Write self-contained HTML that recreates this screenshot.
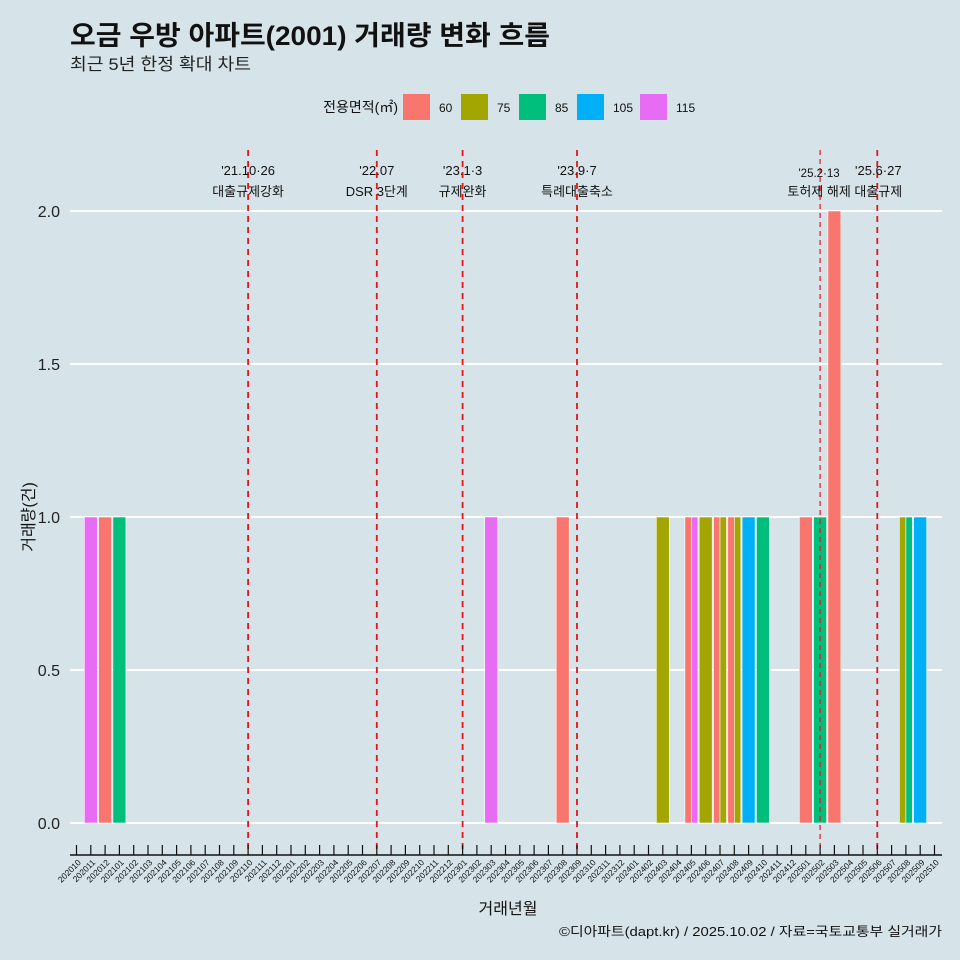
<!DOCTYPE html>
<html><head><meta charset="utf-8"><style>
html,body{margin:0;padding:0;background:#d6e4ea;}
svg{display:block;font-family:"Liberation Sans","Noto Sans CJK KR",sans-serif;}
</style></head><body>
<svg id="c" width="960" height="960" viewBox="0 0 960 960">
<rect x="0" y="0" width="960" height="960" fill="#d6e4ea"/>
<text x="70" y="45" font-size="27" font-weight="bold" fill="#111" textLength="480" lengthAdjust="spacingAndGlyphs">오금 우방 아파트(2001) 거래량 변화 흐름</text>
<text x="70" y="70" font-size="17" fill="#222" textLength="181" lengthAdjust="spacingAndGlyphs">최근 5년 한정 확대 차트</text>
<g id="legend">
<text x="398" y="112" font-size="14" text-anchor="end" fill="#111">전용면적(㎡)</text>
</g>
<g id="grid"></g><g id="bars"></g><g id="events"></g><g id="xaxis"></g><g id="yaxis"></g>
<text transform="translate(34,517) rotate(-90)" font-size="16" text-anchor="middle" fill="#111">거래량(건)</text>
<text x="508" y="914" font-size="16" text-anchor="middle" fill="#111">거래년월</text>
<text x="942" y="936" font-size="13" text-anchor="end" fill="#111" textLength="383" lengthAdjust="spacingAndGlyphs">©디아파트(dapt.kr) / 2025.10.02 / 자료=국토교통부 실거래가</text>
</svg>
<script>
const months = [];
for (let y=2020,m=10; !(y===2025&&m===11); ){ months.push(''+y+(m<10?'0'+m:m)); m++; if(m>12){m=1;y++;} }
const sizes = ['60','75','85','105','115'];
const sizeColors = ['#f8766d','#a3a500','#00bf7d','#00b0f6','#e76bf3'];
const tradeMonths = ['202011','202012','202101','202303','202308','202403','202405','202405','202406','202407','202407','202408','202408','202409','202410','202501','202502','202503','202508','202508','202509'];
const tradeSizes  = ['115','60','85','115','60','75','60','115','75','60','75','60','75','105','85','60','85','60','75','85','105'];
const tradeCounts = [1,1,1,1,1,1,1,1,1,1,1,1,1,1,1,1,1,2,1,1,1];
const yTicks = [0,0.5,1.0,1.5,2.0];
const yTickLabels = ['0.0','0.5','1.0','1.5','2.0'];
const eventMonths = ['202110','202207','202301','202309','202502','202506'];
const eventDates = ["'21.10·26","'22.07","'23.1·3","'23.9·7","'25.2·13","'25.6·27"];
const eventLabels = ['대출규제강화','DSR 3단계','규제완화','특례대출축소','토허제 해제','대출규제'];

const NS='http://www.w3.org/2000/svg';
function mk(tag,attrs,parent,text){const e=document.createElementNS(NS,tag);for(const k in attrs)e.setAttribute(k,attrs[k]);if(text!=null)e.textContent=text;parent.appendChild(e);return e;}
const x0=76.5, step=14.3, plotL=70, plotR=942;
const xS = m => x0 + months.indexOf(m)*step;
const yS = v => 823 - v*306;
const bandW = 13;

const lg=document.getElementById('legend');
const lgX=[403,461,519,577,640];
sizes.forEach((s,i)=>{
  const r=mk('rect',{x:lgX[i],y:94,width:27,height:26,fill:sizeColors[i]},lg);
  
  
  const t=mk('text',{x:lgX[i]+36,y:112,'font-size':12,fill:'#111'},lg,s);
  
  
});

const g=document.getElementById('grid'), ya=document.getElementById('yaxis');
yTicks.forEach((v,i)=>{
  const l=mk('line',{x1:plotL,x2:plotR,y1:yS(v),y2:yS(v),stroke:'#fff','stroke-width':2},g);
  
  
  const t=mk('text',{x:60,y:yS(v)+6,'font-size':16,'text-anchor':'end',fill:'#222'},ya,yTickLabels[i]);
  
  
});

const bg=document.getElementById('bars');
const groups={};
tradeMonths.forEach((m,i)=>{(groups[m]=groups[m]||[]).push(i);});
Object.keys(groups).forEach(m=>{
  const idx=groups[m]; const n=idx.length; const w=bandW/n;
  idx.forEach((i,k)=>{
    const c=sizeColors[sizes.indexOf(tradeSizes[i])];
    const r=mk('rect',{x:xS(m)-bandW/2+k*w,y:yS(tradeCounts[i]),width:w,height:yS(0)-yS(tradeCounts[i]),fill:c,stroke:'#fff','stroke-width':0.6},bg);
    
    
  });
});

const ev=document.getElementById('events');
eventMonths.forEach((m,i)=>{
  const x=xS(m); const thin=(m==='202502');
  const l=mk('line',{x1:x,x2:x,y1:150,y2:855,stroke:'#e8141a','stroke-width':thin?1.2:1.8,'stroke-dasharray':thin?'5,4':'6,5'},ev);
  
  
  const fs=thin?11.5:13;
  const ax = m==='202502'? x-1 : (m==='202506'? x+1 : x);
  const t1=mk('text',{x:ax,y:thin?177:175,'font-size':fs,'text-anchor':'middle',fill:'#111'},ev,eventDates[i]);
  
  
  const t2=mk('text',{x:ax,y:196,'font-size':13,'text-anchor':'middle',fill:'#111'},ev,eventLabels[i]);
  
  
});

const xa=document.getElementById('xaxis');
const al=mk('line',{x1:plotL,x2:plotR,y1:855,y2:855,stroke:'#111','stroke-width':1.5},xa);


months.forEach(m=>{
  const x=xS(m);
  const tk=mk('line',{x1:x,x2:x,y1:845,y2:855,stroke:'#111','stroke-width':1.2},xa);
  
  
  const t=mk('text',{transform:`translate(${x+5},${863}) rotate(-45)`,'font-size':8.5,'text-anchor':'end',fill:'#111'},xa,m);
  
  
});
</script>
</body></html>
